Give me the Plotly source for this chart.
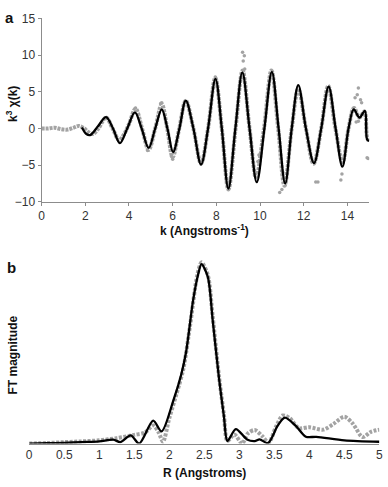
import plotly.graph_objects as go

# ---------- Panel a: k^3 chi(k) ----------
k_fit = [1.85, 2.05, 2.22, 2.58, 2.95, 3.27, 3.58, 3.92, 4.27, 4.58, 4.9, 5.2, 5.5, 5.76, 6.02,
         6.31, 6.6, 6.95, 7.3, 7.62, 7.96, 8.25, 8.55, 8.87, 9.19, 9.52, 9.85, 10.2, 10.54, 10.85,
         11.15, 11.45, 11.75, 12.1, 12.47, 12.8, 13.14, 13.46, 13.77, 14.05, 14.29, 14.55, 14.8,
         14.9, 15.0]
chi_fit = [0.15, -0.75, -0.9, 0.3, 1.55, 0.0, -2.0, 0.0, 2.2, 0.0, -2.65, 0.0, 2.6, 0.0, -3.2,
           0.0, 3.8, 0.0, -4.9, 0.0, 6.75, 0.0, -8.2, 0.0, 7.65, 0.0, -7.3, 0.0, 7.7, 0.0,
           -7.5, 0.0, 5.9, 0.0, -4.7, 0.0, 5.7, 0.0, -5.2, 0.0, 2.6, 1.5, 2.4,
           -1.5, -1.7]

k_data = [0, 0.3, 0.6, 0.9, 1.2, 1.45, 1.7, 1.95, 2.15, 2.35, 2.6, 2.95, 3.25, 3.55, 3.75, 4.0,
          4.3, 4.6, 4.9, 5.2, 5.5, 5.75, 6.0, 6.3, 6.6, 6.95, 7.3, 7.62, 7.95, 8.25, 8.55, 8.88,
          9.2, 9.52, 9.82, 10.18, 10.52, 10.83, 11.12, 11.45, 11.75, 12.1, 12.45, 12.8, 13.12,
          13.45, 13.78, 14.05, 14.3, 14.55, 14.78, 14.9, 15.0]
chi_data = [0, 0.0, 0.1, -0.1, -0.15, 0.1, 0.35, 0.0, -0.5, -0.75, 0.0, 1.5, 0.0, -1.6, -0.9, 0.6,
            2.7, 0.0, -2.9, 0.0, 3.3, 0.0, -3.9, 0.0, 3.8, 0.0, -4.8, 0.0, 6.9, 0.0, -8.3, 0.0,
            7.9, 0.0, -6.6, 0.0, 7.9, 0.0, -7.8, 0.0, 5.4, 0.0, -4.8, 0.0, 5.8,
            0.0, -4.6, 0.0, 2.8, 1.5, 2.3, -1.2, -1.8]

k_out = [9.2, 9.28, 9.23, 9.3, 9.95, 9.9, 10.0, 10.9, 11.0, 11.05, 12.55, 12.65, 13.7, 13.75,
         14.35, 14.5, 14.45, 14.6, 14.65, 14.4, 14.5, 14.85, 14.9, 14.95, 5.5, 5.45, 6.0, 5.95,
         4.85, 4.3, 7.95, 9.75]
chi_out = [10.4, 9.9, 9.2, 8.1, -3.6, -4.5, -3.8, -8.7, -8.3, -6.0, -7.3, -7.3, -7.0, -6.2,
           4.2, 5.5, 4.6, 3.9, 3.5, 0.9, 1.0, 0.5, -4.0, -4.1, 3.5, 3.4, -4.2, -3.8,
           -3.0, 2.8, 7.0, -6.4]

k_ticks = [0, 2, 4, 6, 8, 10, 12, 14]
chi_ticks = [-10, -5, 0, 5, 10, 15]

# ---------- Panel b: FT magnitude ----------
R_fit = [0.0, 0.25, 0.5, 0.75, 1.0, 1.2, 1.3, 1.45, 1.57, 1.77, 1.89, 2.06, 2.17, 2.24, 2.34,
         2.41, 2.46, 2.55, 2.62, 2.71, 2.78, 2.83, 2.95, 3.11, 3.22, 3.29, 3.41, 3.55, 3.65,
         3.8, 3.95, 4.1, 4.5, 5.0]
ft_fit = [0.0, 0.002, 0.004, 0.008, 0.012, 0.022, 0.008, 0.045, 0.0, 0.127, 0.067, 0.24, 0.38,
          0.505, 0.79, 0.93, 0.99, 0.92, 0.68, 0.36, 0.15, 0.014, 0.08, 0.023, 0.014, 0.023,
          0.003, 0.1, 0.143, 0.1, 0.038, 0.037, 0.018, 0.01]

R_data = [0.0, 0.25, 0.5, 0.75, 1.0, 1.25, 1.5, 1.65, 1.77, 1.85, 1.91, 2.0, 2.1, 2.2, 2.3,
          2.4, 2.46, 2.55, 2.62, 2.71, 2.78, 2.83, 2.93, 3.04, 3.12, 3.22, 3.33, 3.42, 3.52,
          3.62, 3.72, 3.85, 4.0, 4.2, 4.35, 4.5, 4.62, 4.76, 4.88, 5.0]
ft_data = [0.0, 0.003, 0.008, 0.012, 0.018, 0.03, 0.048, 0.06, 0.1, 0.06, 0.01, 0.14, 0.27,
           0.41, 0.66, 0.93, 1.0, 0.93, 0.7, 0.37, 0.16, 0.015, 0.05, 0.0, 0.055, 0.075, 0.04,
           0.005, 0.09, 0.155, 0.14, 0.085, 0.09, 0.077, 0.11, 0.148, 0.11, 0.036, 0.065, 0.077]

R_ticks = [0, 0.5, 1, 1.5, 2, 2.5, 3, 3.5, 4, 4.5, 5]

GRAY = "#a3a3a3"
FONT = "Liberation Sans"

fig = go.Figure()
# panel a
fig.add_trace(go.Scatter(x=k_data, y=chi_data, mode="lines", xaxis="x", yaxis="y",
                         line=dict(color=GRAY, width=4, dash="3px,1px", shape="spline", smoothing=1),
                         showlegend=False, hoverinfo="skip"))
fig.add_trace(go.Scatter(x=k_out, y=chi_out, mode="markers", xaxis="x", yaxis="y",
                         marker=dict(color=GRAY, size=3.5), showlegend=False, hoverinfo="skip"))
fig.add_trace(go.Scatter(x=k_fit, y=chi_fit, mode="lines", xaxis="x", yaxis="y",
                         line=dict(color="black", width=2.3, shape="spline", smoothing=1),
                         showlegend=False, hoverinfo="skip"))
# panel b
fig.add_trace(go.Scatter(x=R_data, y=ft_data, mode="lines", xaxis="x2", yaxis="y2",
                         line=dict(color=GRAY, width=4, dash="3px,1.5px", shape="spline", smoothing=0.8),
                         showlegend=False, hoverinfo="skip"))
fig.add_trace(go.Scatter(x=R_fit, y=ft_fit, mode="lines", xaxis="x2", yaxis="y2",
                         line=dict(color="black", width=2.3, shape="spline", smoothing=0.8),
                         showlegend=False, hoverinfo="skip"))

W, H = 388, 487
tickfont = dict(family=FONT, size=12, color="#333333")
axline = "#8c8c8c"

fig.update_layout(
    width=W, height=H,
    margin=dict(l=0, r=0, t=0, b=0),
    paper_bgcolor="white", plot_bgcolor="white",
    font=dict(family=FONT),
    xaxis=dict(domain=[39.3 / W, 373 / W], range=[0, 15], tickvals=k_ticks,
               showline=True, linecolor=axline, linewidth=1, ticks="outside", ticklen=3,
               tickcolor=axline, showgrid=False, zeroline=False, tickfont=tickfont,
               anchor="y", fixedrange=True),
    yaxis=dict(domain=[1 - 200.7 / H, 1 - 11.7 / H], range=[-10, 15], tickvals=chi_ticks,
               showline=True, linecolor=axline, linewidth=1, ticks="outside", ticklen=3,
               tickcolor=axline, showgrid=False, zeroline=False, tickfont=tickfont,
               anchor="x", fixedrange=True),
    xaxis2=dict(domain=[26.7 / W, 383.3 / W], range=[0, 5], tickvals=R_ticks,
                showline=True, linecolor=axline, linewidth=1, ticks="", showgrid=False,
                zeroline=False, tickfont=tickfont, anchor="y2", fixedrange=True,
                ticklabeloverflow="allow"),
    yaxis2=dict(domain=[1 - 449.5 / H, 1 - 253.5 / H], range=[0, 1.05],
                showline=False, showticklabels=False, ticks="", showgrid=False,
                zeroline=False, anchor="x2", fixedrange=True),
)

title_font = dict(family=FONT, size=12, color="#111111")
ann = [
    dict(text="<b>a</b>", x=7 / W, y=1 - 11 / H, font=dict(family=FONT, size=15, color="#111111")),
    dict(text="<b>b</b>", x=9 / W, y=1 - 268 / H, font=dict(family=FONT, size=15, color="#111111")),
    dict(text="<b>k<sup>3</sup> χ(k)</b>", x=9 / W, y=1 - 100 / H, textangle=-90, font=title_font),
    dict(text="<b>k (Angstroms<sup>-1</sup>)</b>", x=205 / W, y=1 - 230 / H, font=title_font),
    dict(text="<b>FT magnitude</b>", x=10 / W, y=1 - 358 / H, textangle=-90, font=title_font),
    dict(text="<b>R (Angstroms)</b>", x=205 / W, y=1 - 480 / H, font=title_font),
]
for a in ann:
    a.update(xref="paper", yref="paper", showarrow=False, xanchor="center", yanchor="middle")
fig.update_layout(annotations=ann)

fig.write_html("out.html", config={"displayModeBar": False},
               post_script="document.body.style.margin='0';document.body.style.overflow='hidden';")
